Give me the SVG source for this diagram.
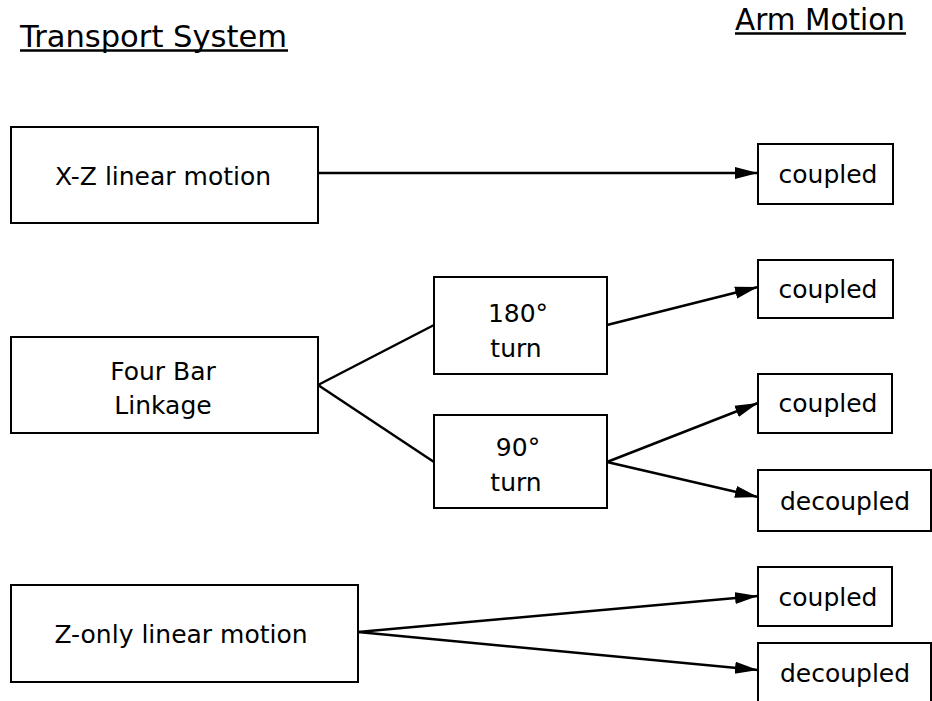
<svg xmlns="http://www.w3.org/2000/svg" width="932" height="701" viewBox="0 0 932 701">
<style>
.box{fill:#fff;stroke:#000;stroke-width:2}
.t{font-family:"DejaVu Sans","Liberation Sans",Arial,sans-serif;font-size:25px;fill:#000;text-anchor:middle}
.h{font-family:"DejaVu Sans","Liberation Sans",Arial,sans-serif;font-size:30px;fill:#000}
.ul{stroke:#000;stroke-width:2.5}
.c{fill:none;stroke:#000;stroke-width:2.5}
</style>
<defs>
<marker id="arr" markerUnits="userSpaceOnUse" markerWidth="24" markerHeight="14" refX="23" refY="6.5" orient="auto">
<path d="M0,0.5 L23,6.5 L0,12.5 z" fill="#000"/>
</marker>
</defs>
<rect width="932" height="701" fill="#fff"/>
<g id="title-transport">
<text class="h" x="20" y="47" textLength="267" lengthAdjust="spacingAndGlyphs">Transport System</text>
<line class="ul" x1="20" y1="50.5" x2="288" y2="50.5"/>
</g>
<g id="title-arm">
<text class="h" x="735" y="30" textLength="170" lengthAdjust="spacingAndGlyphs">Arm Motion</text>
<line class="ul" x1="735" y1="33.5" x2="906" y2="33.5"/>
</g>
<g id="connectors">
<line class="c" x1="318" y1="173" x2="758" y2="173" marker-end="url(#arr)"/>
<line class="c" x1="318" y1="385" x2="434" y2="325"/>
<line class="c" x1="318" y1="385" x2="434" y2="462"/>
<line class="c" x1="607" y1="325" x2="758" y2="287" marker-end="url(#arr)"/>
<line class="c" x1="607" y1="462" x2="758" y2="403" marker-end="url(#arr)"/>
<line class="c" x1="607" y1="462" x2="758" y2="497" marker-end="url(#arr)"/>
<line class="c" x1="358" y1="632" x2="758" y2="596" marker-end="url(#arr)"/>
<line class="c" x1="358" y1="632" x2="758" y2="670" marker-end="url(#arr)"/>
</g>
<g id="xz">
<rect class="box" x="11" y="127" width="307" height="96"/>
<text class="t" x="163" y="185">X-Z linear motion</text>
</g>
<g id="fourbar">
<rect class="box" x="11" y="337" width="307" height="96"/>
<text class="t" x="163" y="380">Four Bar</text>
<text class="t" x="163" y="414">Linkage</text>
</g>
<g id="turn180">
<rect class="box" x="434" y="277" width="173" height="97"/>
<text class="t" x="518" y="322">180°</text>
<text class="t" x="516" y="357">turn</text>
</g>
<g id="turn90">
<rect class="box" x="434" y="415" width="173" height="93"/>
<text class="t" x="518" y="456">90°</text>
<text class="t" x="516" y="491">turn</text>
</g>
<g id="zonly">
<rect class="box" x="11" y="585" width="347" height="97"/>
<text class="t" x="181" y="643">Z-only linear motion</text>
</g>
<g id="c1">
<rect class="box" x="758" y="144" width="135" height="60"/>
<text class="t" x="828" y="183">coupled</text>
</g>
<g id="c2">
<rect class="box" x="758" y="260" width="135" height="58"/>
<text class="t" x="828" y="298">coupled</text>
</g>
<g id="c3">
<rect class="box" x="758" y="374" width="134" height="59"/>
<text class="t" x="828" y="412">coupled</text>
</g>
<g id="d4">
<rect class="box" x="758" y="470" width="173" height="61"/>
<text class="t" x="845" y="510">decoupled</text>
</g>
<g id="c5">
<rect class="box" x="758" y="567" width="134" height="59"/>
<text class="t" x="828" y="606">coupled</text>
</g>
<g id="d6">
<rect class="box" x="758" y="643" width="173" height="62"/>
<text class="t" x="845" y="682">decoupled</text>
</g>
</svg>
